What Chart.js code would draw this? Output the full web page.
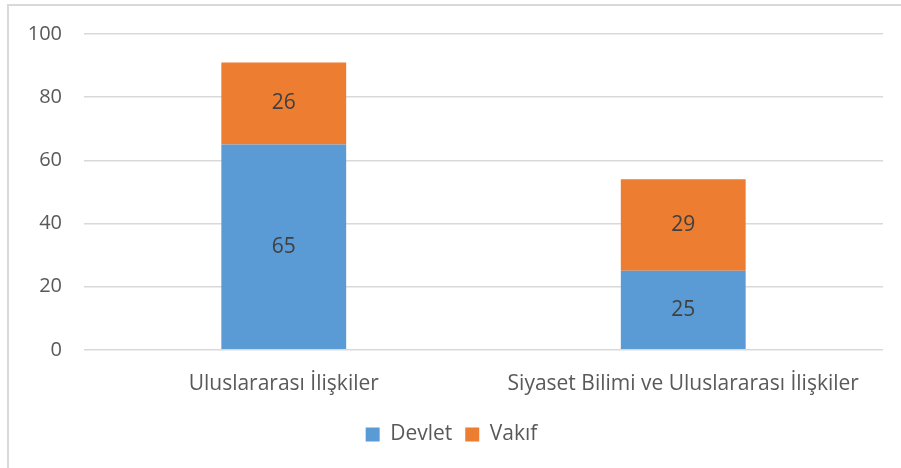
<!DOCTYPE html>
<html>
<head>
<meta charset="utf-8">
<script src="https://cdn.jsdelivr.net/npm/chart.js@4"></script>
<style>
    html, body { margin: 0; padding: 0; background: #fff; }
    #wrap { position: relative; width: 901px; height: 468px; overflow: hidden; }
    #frame {
        position: absolute; left: 7px; top: 4px; width: 910px; height: 480px;
        border-left: 2px solid #d9d9d9; border-top: 2px solid #d9d9d9;
    }
    canvas { position: absolute; left: 0; top: 0; }
</style>
</head>
<body>
<div id="wrap">
    <div id="frame"></div>
    <canvas id="chart" width="901" height="468"></canvas>
</div>
<script>
"use strict";
const categories = ['Uluslararası İlişkiler', 'Siyaset Bilimi ve Uluslararası İlişkiler'];
const devlet = [65, 25];
const vakif = [26, 29];
const yTicks = [0, 20, 40, 60, 80, 100];

const FONT = 'Open Sans';

//draws the value in the middle of each bar segment
const valueLabels = {
    id: 'valueLabels',
    afterDatasetsDraw(chart) {
        const ctx = chart.ctx;
        ctx.save();
        ctx.font = '21px "' + FONT + '"';
        ctx.fillStyle = '#404040';
        ctx.textAlign = 'center';
        ctx.textBaseline = 'middle';
        chart.data.datasets.forEach((ds, i) => {
            chart.getDatasetMeta(i).data.forEach((bar, j) => {
                const mid = (bar.y + bar.base) / 2;
                ctx.fillText(String(ds.data[j]), bar.x, mid);
            });
        });
        ctx.restore();
    }
};

const ctx = document.getElementById('chart').getContext('2d');
const chart = new Chart(ctx, {
    type: 'bar',
    data: {
        labels: categories,
        datasets: [
            {
                label: 'Devlet',
                data: devlet,
                backgroundColor: '#5b9bd5',
                categoryPercentage: 0.625,
                barPercentage: 0.5
            },
            {
                label: 'Vakıf',
                data: vakif,
                backgroundColor: '#ed7d31',
                categoryPercentage: 0.625,
                barPercentage: 0.5
            }
        ]
    },
    options: {
        responsive: false,
        animation: false,
        layout: {
            padding: { left: 20, right: 18, top: 23, bottom: 13 }
        },
        plugins: {
            legend: {
                position: 'bottom',
                labels: {
                    boxWidth: 14,
                    boxHeight: 14,
                    color: '#595959',
                    font: { family: FONT, size: 21 },
                    padding: 13
                }
            },
            tooltip: { enabled: false }
        },
        scales: {
            x: {
                stacked: true,
                grid: { display: false },
                border: { display: false },
                ticks: {
                    color: '#595959',
                    font: { family: FONT, size: 21 },
                    padding: 14
                }
            },
            y: {
                stacked: true,
                min: 0,
                max: 100,
                afterBuildTicks: axis => {
                    axis.ticks = yTicks.map(v => ({ value: v }));
                },
                afterFit: axis => {
                    axis.width = 64;
                },
                grid: {
                    color: '#d9d9d9',
                    lineWidth: 1.5,
                    drawTicks: false
                },
                border: { display: false },
                ticks: {
                    color: '#595959',
                    font: { family: FONT, size: 20 },
                    padding: 22
                }
            }
        }
    },
    plugins: [valueLabels]
});
</script>
</body>
</html>
